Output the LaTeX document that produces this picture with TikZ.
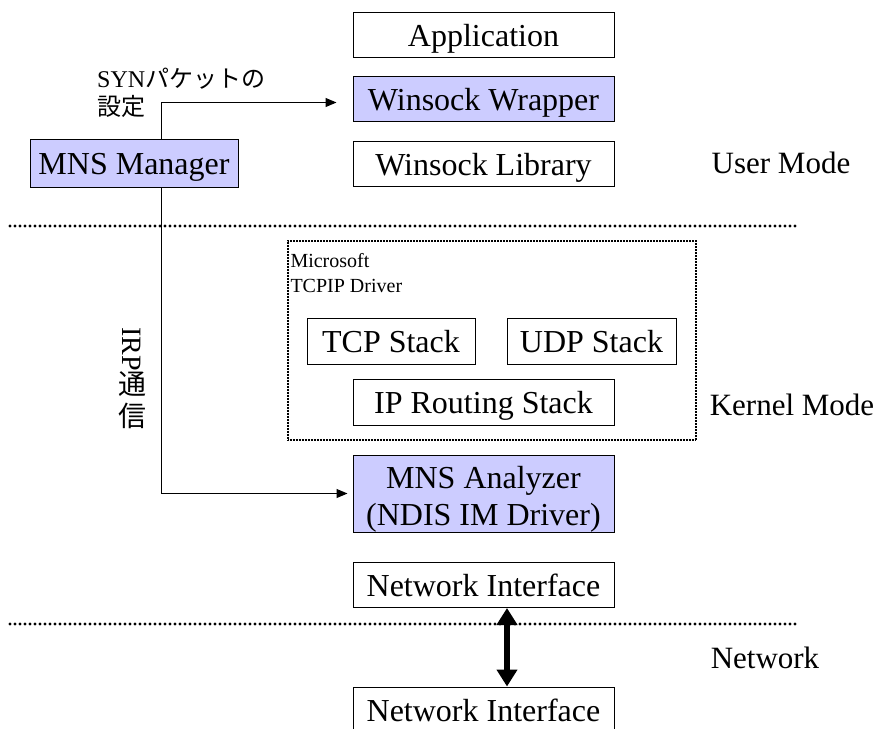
\documentclass[tikz,border=0pt]{standalone}
\usepackage{fontspec}
\usepackage{graphicx}
\usepackage{xcolor}
\usepackage{tikz}
\usetikzlibrary{arrows.meta}
\setmainfont{Liberation Serif}
\newfontfamily\jpfont{Noto Sans CJK JP}
\definecolor{lavender}{RGB}{204,204,255}

\begin{document}
\begin{tikzpicture}[x=1pt, y=-1pt,
    layer/.style={draw, line width=1pt, inner sep=0pt, minimum height=45pt,
        text height=23pt, text depth=0pt, font=\fontsize{32}{37}\selectfont},
    ownlayer/.style={layer, fill=lavender},
    modename/.style={font=\fontsize{31}{36}\selectfont},
    sepline/.style={line width=3.2pt, line cap=round, dash pattern=on 0pt off 5pt},
    link/.style={line width=1pt, -{Triangle[length=11pt,width=9pt]}},
    bigarrow/.style={line width=6.5pt, {Triangle[length=17pt,width=20pt]}-{Triangle[length=17pt,width=20pt]}}]
    \useasboundingbox (0,0) rectangle (882,728);
    \node[layer, minimum width=261pt] (app) at (483.5,34.5) {Application};
    \node[ownlayer, minimum width=261pt] (wrap) at (483.5,98.5) {Winsock Wrapper};
    \node[layer, minimum width=261pt] (lib) at (483.5,163.5) {Winsock Library};
    \node[ownlayer, minimum width=208pt, minimum height=48pt] (mgr) at (134,163) {MNS Manager};
    \node[modename] (usr) at (781,163) {User Mode};
    \draw[sepline] (10,226) -- (798,226);
    \node[draw, line width=1.4pt, dash pattern=on 1pt off 0.5pt, minimum width=408pt, minimum height=199pt] (drv) at (492,340.5) {};
    \node[anchor=north west, align=left, inner sep=0pt, font=\fontsize{20}{25}\selectfont] (drvname) at ([xshift=3pt,yshift=-13pt]drv.north west) {Microsoft\\TCPIP Driver};
    \node[layer, minimum width=168pt, minimum height=46pt] (tcp) at (391,341) {TCP Stack};
    \node[layer, minimum width=169pt, minimum height=46pt] (udp) at (591.5,341) {UDP Stack};
    \node[layer, minimum width=261pt, minimum height=46pt] (ipr) at (483.5,402) {IP Routing Stack};
    \node[modename] (krn) at (792,405) {Kernel Mode};
    \node[ownlayer, minimum width=261pt, minimum height=77pt, align=center, text height=63pt] (ana) at (483.5,493.5) {MNS Analyzer\\(NDIS IM Driver)};
    \node[layer, minimum width=261pt] (ni1) at (483.5,585) {Network Interface};
    \draw[sepline] (10,624) -- (798,624);
    \node[modename] (net) at (765,658) {Network};
    \node[layer, minimum width=261pt] (ni2) at (483.5,709.5) {Network Interface};
    \draw[bigarrow] ([xshift=23.5pt]ni1.south) -- ([xshift=23.5pt]ni2.north);
    \draw[link] ([xshift=27pt]mgr.north) |- ([xshift=-16pt,yshift=-4pt]wrap.west);
    \draw[link] ([xshift=27pt]mgr.south) |- ([xshift=-5pt]ana.west);
    \node[anchor=west, align=left, inner sep=0pt, font=\fontsize{24}{28}\selectfont] (syn) at (97,93) {SYN{\jpfont パケットの}\\{\jpfont 設定}};
    \node[align=center, inner sep=0pt, font=\jpfont\fontsize{28}{32}\selectfont] (irp) at (132,378) {\rotatebox{-90}{\rmfamily IRP}\\通\\信};
\end{tikzpicture}
\end{document}
